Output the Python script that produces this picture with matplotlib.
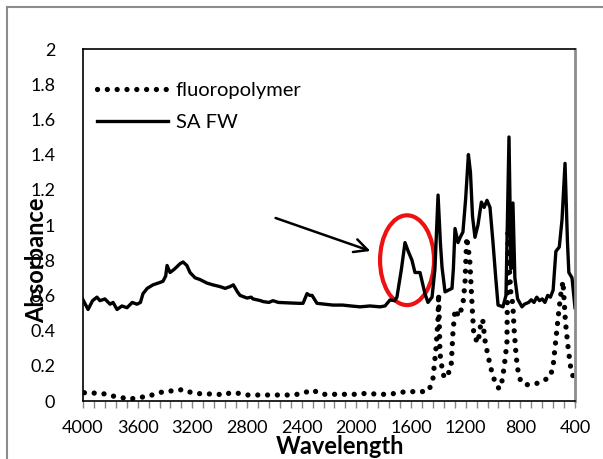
import matplotlib
matplotlib.use("Agg")
import matplotlib.pyplot as plt
from matplotlib.patches import Ellipse
from matplotlib.lines import Line2D
from matplotlib.ticker import MultipleLocator

plt.rcParams['font.family'] = ['Lato', 'DejaVu Sans']

# ---- data ----
safw_wn = [4000, 3963, 3930, 3898, 3876, 3840, 3802, 3780, 3751, 3715, 3678, 3640, 3605, 3580,
           3561, 3530, 3488, 3450, 3415, 3395, 3385, 3363, 3330, 3290, 3268, 3240, 3217, 3180,
           3144, 3093, 3050, 2998, 2960, 2924, 2900, 2870, 2851, 2800, 2770, 2756, 2700, 2683,
           2640, 2610, 2570, 2485, 2420, 2390, 2361, 2340, 2324, 2288, 2230, 2171, 2100, 2040,
           1973, 1900, 1827, 1790, 1754, 1720, 1703, 1670, 1644, 1620, 1593, 1571, 1534, 1498,
           1476, 1446, 1425, 1402, 1385, 1373, 1351, 1300, 1290, 1278, 1256, 1240, 1220, 1200,
           1180, 1165, 1150, 1132, 1110, 1085, 1065, 1044, 1022, 1000, 980, 963, 927, 905, 883,
           868, 854, 840, 820, 788, 770, 740, 720, 700, 680, 660, 640, 620, 600, 580, 560, 540,
           515, 495, 473, 455, 445, 422, 400]
safw_abs = [0.575, 0.52, 0.57, 0.59, 0.57, 0.58, 0.55, 0.56, 0.52, 0.54, 0.53, 0.56, 0.55, 0.56,
            0.61, 0.64, 0.66, 0.67, 0.68, 0.71, 0.77, 0.73, 0.75, 0.78, 0.79, 0.77, 0.73, 0.70,
            0.69, 0.67, 0.66, 0.65, 0.64, 0.65, 0.66, 0.62, 0.60, 0.585, 0.59, 0.58, 0.57, 0.565,
            0.56, 0.57, 0.56, 0.557, 0.555, 0.555, 0.61, 0.60, 0.60, 0.555, 0.55, 0.545, 0.545, 0.54,
            0.535, 0.54, 0.535, 0.54, 0.574, 0.57, 0.59, 0.75, 0.90, 0.85, 0.80, 0.73, 0.73, 0.61,
            0.56, 0.59, 0.75, 1.17, 0.90, 0.76, 0.62, 0.64, 0.75, 0.98, 0.90, 0.93, 0.96, 1.15,
            1.40, 1.30, 1.05, 0.93, 1.00, 1.13, 1.10, 1.14, 1.10, 0.90, 0.70, 0.545, 0.535, 0.60, 1.50,
            0.75, 1.125, 0.70, 0.58, 0.535, 0.55, 0.56, 0.575, 0.56, 0.59, 0.57, 0.58, 0.56, 0.60, 0.59, 0.63, 0.85,
            0.875, 1.03, 1.35, 0.90, 0.73, 0.70, 0.53]

fluoro_wn = [3990, 3963, 3898, 3839, 3780, 3715, 3656, 3598, 3532, 3459, 3385, 3327, 3268, 3195,
             3107, 3034, 2961, 2924, 2866, 2793, 2705, 2624, 2544, 2463, 2390, 2324, 2251, 2171,
             2083, 1995, 1922, 1841, 1754, 1695, 1615, 1542, 1468, 1439, 1417, 1402, 1398, 1388,
             1366, 1344, 1307, 1293, 1278, 1249, 1220, 1205, 1192, 1170, 1160, 1150, 1140, 1110,
             1085, 1075, 1060, 1040, 1020, 1000, 975, 955, 941, 919, 898, 890, 880, 870, 855, 845,
             830, 815, 800, 780, 760, 720, 680, 640, 600, 580, 560, 540, 520, 505, 488, 470, 450,
             430, 410, 400]
fluoro_abs = [0.047, 0.047, 0.044, 0.040, 0.028, 0.019, 0.010, 0.021, 0.024, 0.044, 0.057, 0.057, 0.066, 0.044,
              0.040, 0.040, 0.034, 0.047, 0.044, 0.034, 0.034, 0.034, 0.034, 0.034, 0.044, 0.063, 0.038, 0.038,
              0.038, 0.038, 0.044, 0.038, 0.038, 0.047, 0.055, 0.050, 0.060, 0.13, 0.30, 0.47, 0.61, 0.27,
              0.15, 0.13, 0.19, 0.39, 0.52, 0.48, 0.55, 0.67, 0.93, 0.80, 0.65, 0.50, 0.37, 0.33,
              0.46, 0.46, 0.35, 0.27, 0.20, 0.14, 0.09, 0.07, 0.08, 0.19, 0.33, 0.98, 0.75, 0.62, 0.55, 0.40,
              0.25, 0.16, 0.12, 0.10, 0.09, 0.10, 0.10, 0.11, 0.13, 0.14, 0.20, 0.35, 0.50, 0.60, 0.68, 0.45, 0.30,
              0.18, 0.13, 0.12]

xticks = [4000, 3600, 3200, 2800, 2400, 2000, 1600, 1200, 800, 400]
yticks = [0, 0.2, 0.4, 0.6, 0.8, 1, 1.2, 1.4, 1.6, 1.8, 2]

# ---- figure ----
W, H = 603, 459
fig = plt.figure(figsize=(W / 100, H / 100), dpi=100)
ax = fig.add_axes([83 / W, (H - 401) / H, (575 - 83) / W, (401 - 49) / H])

ax.plot(fluoro_wn, fluoro_abs, color='black', lw=3.8, linestyle=(0, (0.01, 1.85)),
        dash_capstyle='round', label='fluoropolymer')
ax.plot(safw_wn, safw_abs, color='black', lw=2.4, solid_joinstyle='round', label='SA FW')

ax.set_xlim(4000, 400)
ax.set_ylim(0, 2)
ax.set_xticks(xticks)
ax.set_xticklabels([str(v) for v in xticks])
ax.xaxis.set_minor_locator(MultipleLocator(80))
ax.set_yticks(yticks)
ax.set_yticklabels([f"{v:g}" for v in yticks])

ax.tick_params(axis='x', which='both', direction='out', length=5, width=1, color='#888888',
               labelsize=13, pad=9)
ax.tick_params(axis='y', which='both', length=0, labelsize=13, pad=20)

for s in ['left', 'top', 'bottom']:
    ax.spines[s].set_color('black')
    ax.spines[s].set_linewidth(1.2)
ax.spines['right'].set_color('#8c8c8c')
ax.spines['right'].set_linewidth(2)

leg = ax.legend(loc='upper left', bbox_to_anchor=(0.0, 0.947), frameon=False, fontsize=14.5,
                handlelength=3.5, handletextpad=0.4, labelspacing=0.75, borderaxespad=0.3)

# annotation: red ellipse and arrow
ax.add_patch(Ellipse((1629, 0.80), 395, 0.51, fill=False, edgecolor='#ee1111', lw=3))
ax.annotate('', xy=(1878, 0.847), xytext=(2610, 1.045),
            arrowprops=dict(arrowstyle='->', color='black', lw=1.8, mutation_scale=24))

# axis titles
fig.text(37 / W, 1 - 260 / H, 'Absorbance', rotation=90, ha='center', va='center',
         fontsize=17, fontweight='bold')
fig.text(340 / W, 1 - 446 / H, 'Wavelength', ha='center', va='center',
         fontsize=17, fontweight='bold')

# outer chart border (gray)
fig.add_artist(Line2D([6.5 / W, 6.5 / W], [0, 1 - 7 / H], transform=fig.transFigure,
                      color='#8c8c8c', lw=1.5))
fig.add_artist(Line2D([6.5 / W, 1], [1 - 7 / H, 1 - 7 / H], transform=fig.transFigure,
                      color='#8c8c8c', lw=1.5))

fig.savefig('out.png', dpi=100)
